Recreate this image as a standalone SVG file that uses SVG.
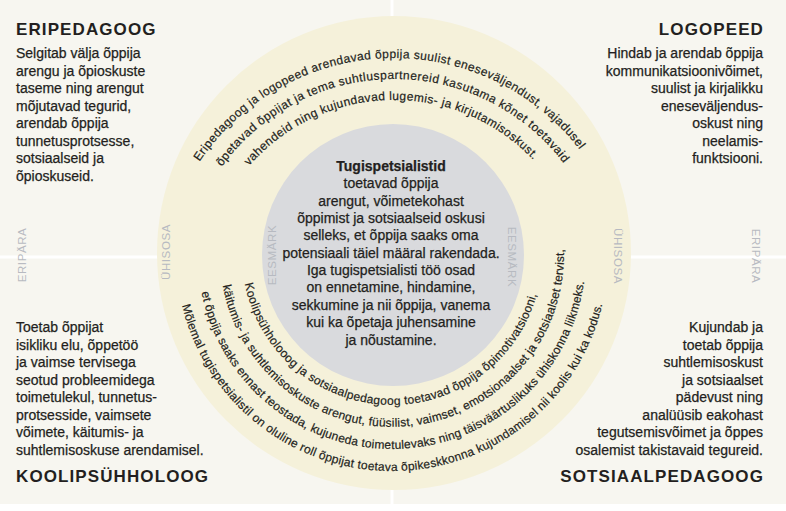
<svg xmlns="http://www.w3.org/2000/svg" xmlns:xlink="http://www.w3.org/1999/xlink" width="786" height="511" viewBox="0 0 786 511">
<style>
text { font-family: "Liberation Sans", Arial, sans-serif; fill: #231f20; }
.body { font-size: 14px; stroke: #231f20; stroke-width: 0.25px; }
.head { font-size: 17px; font-weight: bold; letter-spacing: 1.1px; }
.ctr { font-size: 14px; text-anchor: middle; stroke: #231f20; stroke-width: 0.25px; }
.arc { font-size: 12px; stroke: #231f20; stroke-width: 0.2px; }
.lbl { font-size: 11.5px; fill: #b7bac1; letter-spacing: 0.6px; text-anchor: middle; }
.div { stroke: #ffffff; stroke-width: 3; fill: none; }
</style>
<defs>
<path id="t1" d="M199.6,161.8 A234,234 0 0 1 586.6,159.1"/>
<path id="t2" d="M221.7,166.8 A213,213 0 0 1 570.0,172.0"/>
<path id="t3" d="M249.1,166.0 A192,192 0 0 1 540.0,167.3"/>
<path id="b1" d="M244.8,283.6 A150,150 0 0 0 538.5,287.2"/>
<path id="b2" d="M222.7,285.5 A172,172 0 0 0 563.3,240.0"/>
<path id="b3" d="M201.6,292.3 A194,194 0 0 0 585.3,271.2"/>
<path id="b4" d="M182.0,305.4 A216,216 0 0 0 604.7,292.9"/>
</defs>
<rect x="0" y="0" width="786" height="511" fill="#f7f6f0"/>
<rect x="0" y="504" width="786" height="7" fill="#ffffff"/>
<g id="dividers">
<line class="div" x1="0" y1="257" x2="160" y2="257"/>
<line class="div" x1="628" y1="257" x2="786" y2="257"/>
<line class="div" x1="392" y1="0" x2="392" y2="18"/>
<line class="div" x1="392" y1="488" x2="392" y2="504"/>
</g>
<g id="ring">
<circle cx="394" cy="253" r="237" fill="#f5f1da"/>
</g>
<g id="center">
<circle cx="393" cy="255" r="131" fill="#d9dadd"/>
<text class="ctr" x="391" y="171" font-weight="bold" font-size="13.5">Tugispetsialistid</text>
<text class="ctr" x="391" y="188.3">toetavad õppija</text>
<text class="ctr" x="391" y="205.7">arengut, võimetekohast</text>
<text class="ctr" x="391" y="223">õppimist ja sotsiaalseid oskusi</text>
<text class="ctr" x="391" y="240.4">selleks, et õppija saaks oma</text>
<text class="ctr" x="391" y="257.7">potensiaali täiel määral rakendada.</text>
<text class="ctr" x="391" y="275.1">Iga tugispetsialisti töö osad</text>
<text class="ctr" x="391" y="292.4">on ennetamine, hindamine,</text>
<text class="ctr" x="391" y="309.8">sekkumine ja nii õppija, vanema</text>
<text class="ctr" x="391" y="327.1">kui ka õpetaja juhensamine</text>
<text class="ctr" x="391" y="344.5">ja nõustamine.</text>
</g>
<g id="labels">
<text class="lbl" transform="translate(26,255) rotate(-90)">ERIPÄRA</text>
<text class="lbl" transform="translate(752,256) rotate(90)">ERIPÄRA</text>
<text class="lbl" transform="translate(170,252) rotate(-90)">ÜHISOSA</text>
<text class="lbl" transform="translate(614,256) rotate(90)">ÜHISOSA</text>
<text class="lbl" transform="translate(276,255) rotate(-90)" letter-spacing="1.5">EESMÄRK</text>
<text class="lbl" transform="translate(508,257) rotate(90)" letter-spacing="1.5">EESMÄRK</text>
</g>
<g id="ring-top-text">
<text class="arc"><textPath xlink:href="#t1" href="#t1" textLength="443.5">Eripedagoog ja logopeed arendavad õppija suulist eneseväljendust, vajadusel</textPath></text>
<text class="arc"><textPath xlink:href="#t2" href="#t2" textLength="396.7">õpetavad õppijat ja tema suhtluspartnereid kasutama kõnet toetavaid</textPath></text>
<text class="arc"><textPath xlink:href="#t3" href="#t3" textLength="320">vahendeid ning kujundavad lugemis- ja kirjutamisoskust.</textPath></text>
</g>
<g id="ring-bottom-text">
<text class="arc"><textPath xlink:href="#b1" href="#b1" textLength="402">Koolipsühholooog ja sotsiaalpedagoog toetavad õppija õpimotivatsiooni,</textPath></text>
<text class="arc"><textPath xlink:href="#b2" href="#b2" textLength="515">käitumis- ja suhtlemisoskuste arengut, füüsilist, vaimset, emotsionaalset ja sotsiaalset tervist,</textPath></text>
<text class="arc"><textPath xlink:href="#b3" href="#b3" textLength="545">et õppija saaks ennast teostada, kujuneda toimetulevaks ning täisväärtuslikuks ühiskonna liikmeks.</textPath></text>
<text class="arc"><textPath xlink:href="#b4" href="#b4" textLength="578">Mõlemal tugispetsialistil on oluline roll õppijat toetava õpikeskkonna kujundamisel nii koolis kui ka kodus.</textPath></text>
</g>
<g id="eripedagoog">
<text class="head" x="16" y="35">ERIPEDAGOOG</text>
<text class="body" x="16" y="58">Selgitab välja õppija</text>
<text class="body" x="16" y="75.5">arengu ja õpioskuste</text>
<text class="body" x="16" y="93">taseme ning arengut</text>
<text class="body" x="16" y="110.5">mõjutavad tegurid,</text>
<text class="body" x="16" y="128">arendab õppija</text>
<text class="body" x="16" y="145.5">tunnetusprotsesse,</text>
<text class="body" x="16" y="163">sotsiaalseid ja</text>
<text class="body" x="16" y="180.5">õpioskuseid.</text>
</g>
<g id="logopeed" text-anchor="end">
<text class="head" x="764" y="35">LOGOPEED</text>
<text class="body" x="763" y="58">Hindab ja arendab õppija</text>
<text class="body" x="763" y="75.5">kommunikatsioonivõimet,</text>
<text class="body" x="763" y="93">suulist ja kirjalikku</text>
<text class="body" x="763" y="110.5">eneseväljendus-</text>
<text class="body" x="763" y="128">oskust ning</text>
<text class="body" x="763" y="145.5">neelamis-</text>
<text class="body" x="763" y="163">funktsiooni.</text>
</g>
<g id="koolipsuhholoog">
<text class="body" x="16" y="332">Toetab õppijat</text>
<text class="body" x="16" y="349.5">isikliku elu, õppetöö</text>
<text class="body" x="16" y="367">ja vaimse tervisega</text>
<text class="body" x="16" y="384.5">seotud probleemidega</text>
<text class="body" x="16" y="402">toimetulekul, tunnetus-</text>
<text class="body" x="16" y="419.5">protsesside, vaimsete</text>
<text class="body" x="16" y="437">võimete, käitumis- ja</text>
<text class="body" x="16" y="454.5">suhtlemisoskuse arendamisel.</text>
<text class="head" x="16" y="482">KOOLIPSÜHHOLOOG</text>
</g>
<g id="sotsiaalpedagoog" text-anchor="end">
<text class="body" x="763" y="332">Kujundab ja</text>
<text class="body" x="763" y="349.5">toetab õppija</text>
<text class="body" x="763" y="367">suhtlemisoskust</text>
<text class="body" x="763" y="384.5">ja sotsiaalset</text>
<text class="body" x="763" y="402">pädevust ning</text>
<text class="body" x="763" y="419.5">analüüsib eakohast</text>
<text class="body" x="763" y="437">tegutsemisvõimet ja õppes</text>
<text class="body" x="763" y="454.5">osalemist takistavaid tegureid.</text>
<text class="head" x="764" y="482">SOTSIAALPEDAGOOG</text>
</g>
</svg>
